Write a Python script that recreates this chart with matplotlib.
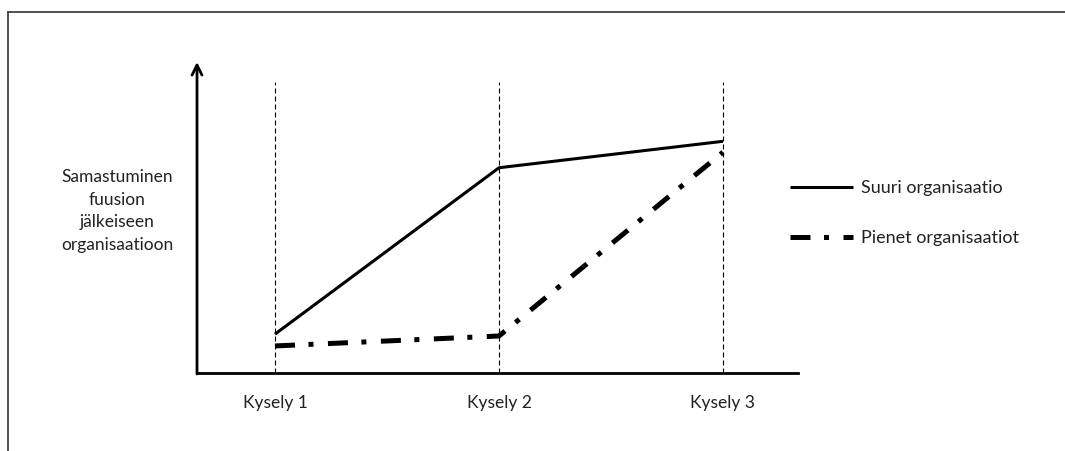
import matplotlib.pyplot as plt
from matplotlib.lines import Line2D

plt.rcParams['font.family'] = ['Lato', 'DejaVu Sans']

# data
kyselyt = ['Kysely 1', 'Kysely 2', 'Kysely 3']
suuri = [1.25, 6.6, 7.45]
pienet = [0.87, 1.19, 7.1]
sarjat = ['Suuri organisaatio', 'Pienet organisaatiot']
y_otsikko = 'Samastuminen\nfuusion\njälkeiseen\norganisaatioon'

W, H = 1065, 451
fig = plt.figure(figsize=(W / 100, H / 100), dpi=100)

# kehys (vain ylä- ja vasen reuna näkyvät)
ylä = 1 - 12 / H
vasen = 8 / W
fig.add_artist(Line2D([vasen, 1.0], [ylä, ylä], transform=fig.transFigure,
                      color='#333333', lw=1.2))
fig.add_artist(Line2D([vasen, vasen], [0.0, ylä], transform=fig.transFigure,
                      color='#333333', lw=1.2))

ax = fig.add_axes([197 / W, 1 - 373 / H, (798 - 197) / W, (373 - 62) / H])
x = [1, 2, 3]

for xi in x:
    ax.plot([xi, xi], [0, 9.35], color='black', lw=0.8,
            linestyle=(0, (4.5, 2.7)))

ax.plot(x, suuri, color='black', lw=2.2, solid_capstyle='butt',
        label=sarjat[0])
ax.plot(x, pienet, color='black', lw=3.6,
        linestyle=(0, (4.0, 2.7, 1.0, 2.9)), label=sarjat[1])

ax.set_xlim(1 - 78 / 224, 3 + 75 / 224)
ax.set_ylim(0, 10)
ax.set_xticks(x)
ax.set_xticklabels(kyselyt, fontsize=12.5, color='#222222')
ax.set_yticks([])
ax.tick_params(axis='x', length=0, pad=16)
for s in ['top', 'right', 'left']:
    ax.spines[s].set_visible(False)
ax.spines['bottom'].set_linewidth(2)

# y-akseli nuolella
ax.annotate('', xy=(ax.get_xlim()[0], 10), xytext=(ax.get_xlim()[0], -0.03),
            arrowprops=dict(arrowstyle='->', lw=2, color='black',
                            mutation_scale=18, shrinkA=0, shrinkB=0),
            annotation_clip=False)

fig.text(117 / W, 1 - 211 / H, y_otsikko, ha='center', va='center',
         fontsize=12.5, linespacing=1.52, color='#222222')

ax.legend(loc='upper left', bbox_to_anchor=(790 / W, 1 - 180 / H),
          bbox_transform=fig.transFigure, frameon=False, fontsize=13,
          handlelength=3.5, handletextpad=0.45, labelspacing=1.9,
          borderpad=0, borderaxespad=0, labelcolor='#222222')

fig.savefig('out.png', dpi=100)
